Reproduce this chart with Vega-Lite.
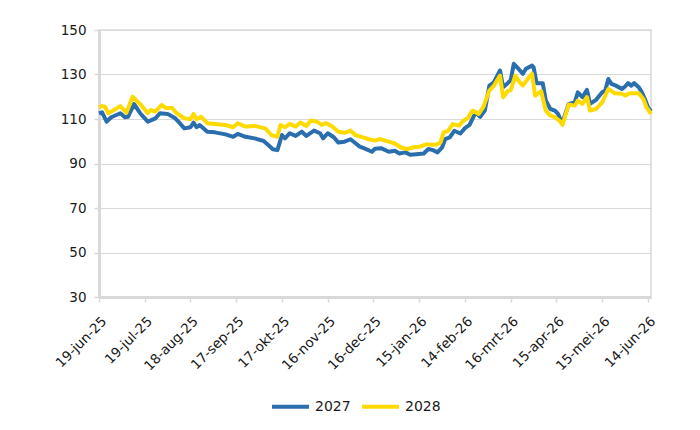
{
  "$schema": "https://vega.github.io/schema/vega-lite/v6.json",
  "autosize": {"type": "none"},
  "padding": {"left": 99, "top": 30, "right": 49, "bottom": 133},
  "width": 552,
  "height": 267,
  "background": "white",
  "config": {
    "font": "DejaVu Sans",
    "view": {"stroke": "#d9d9d9", "strokeWidth": 1.5},
    "axis": {
      "labelFont": "DejaVu Sans",
      "labelFontSize": 13.5,
      "labelColor": "#1a1a1a",
      "domainColor": "#d9d9d9",
      "domainWidth": 3,
      "tickColor": "#d9d9d9",
      "tickWidth": 1.5,
      "tickSize": 5,
      "gridColor": "#d9d9d9",
      "gridWidth": 1
    },
    "legend": {"labelFont": "DejaVu Sans"}
  },
  "data": {
    "values": [
      {"d": "2025-06-19", "s": "2027", "v": 112.5},
      {"d": "2025-06-21", "s": "2027", "v": 113},
      {"d": "2025-06-24", "s": "2027", "v": 108.8},
      {"d": "2025-06-27", "s": "2027", "v": 110.8},
      {"d": "2025-07-03", "s": "2027", "v": 112.6},
      {"d": "2025-07-06", "s": "2027", "v": 110.8},
      {"d": "2025-07-08", "s": "2027", "v": 111},
      {"d": "2025-07-12", "s": "2027", "v": 116.7},
      {"d": "2025-07-16", "s": "2027", "v": 112.6},
      {"d": "2025-07-21", "s": "2027", "v": 108.8},
      {"d": "2025-07-26", "s": "2027", "v": 110.3},
      {"d": "2025-07-29", "s": "2027", "v": 112.6},
      {"d": "2025-08-03", "s": "2027", "v": 112.3},
      {"d": "2025-08-08", "s": "2027", "v": 110.3},
      {"d": "2025-08-11", "s": "2027", "v": 108.1},
      {"d": "2025-08-14", "s": "2027", "v": 105.8},
      {"d": "2025-08-18", "s": "2027", "v": 106.3},
      {"d": "2025-08-20", "s": "2027", "v": 108.4},
      {"d": "2025-08-22", "s": "2027", "v": 106.3},
      {"d": "2025-08-24", "s": "2027", "v": 107.3},
      {"d": "2025-08-29", "s": "2027", "v": 104.3},
      {"d": "2025-09-03", "s": "2027", "v": 104},
      {"d": "2025-09-10", "s": "2027", "v": 103.1},
      {"d": "2025-09-15", "s": "2027", "v": 102},
      {"d": "2025-09-18", "s": "2027", "v": 103.3},
      {"d": "2025-09-23", "s": "2027", "v": 102},
      {"d": "2025-09-29", "s": "2027", "v": 101.3},
      {"d": "2025-10-05", "s": "2027", "v": 100.1},
      {"d": "2025-10-08", "s": "2027", "v": 98.3},
      {"d": "2025-10-11", "s": "2027", "v": 96.4},
      {"d": "2025-10-14", "s": "2027", "v": 96},
      {"d": "2025-10-17", "s": "2027", "v": 102.8},
      {"d": "2025-10-19", "s": "2027", "v": 101.3},
      {"d": "2025-10-22", "s": "2027", "v": 103.6},
      {"d": "2025-10-26", "s": "2027", "v": 102.4},
      {"d": "2025-10-30", "s": "2027", "v": 104.3},
      {"d": "2025-11-02", "s": "2027", "v": 102.4},
      {"d": "2025-11-07", "s": "2027", "v": 104.8},
      {"d": "2025-11-11", "s": "2027", "v": 103.6},
      {"d": "2025-11-13", "s": "2027", "v": 101.3},
      {"d": "2025-11-16", "s": "2027", "v": 103.6},
      {"d": "2025-11-20", "s": "2027", "v": 101.8},
      {"d": "2025-11-23", "s": "2027", "v": 99.4},
      {"d": "2025-11-27", "s": "2027", "v": 99.8},
      {"d": "2025-12-01", "s": "2027", "v": 100.9},
      {"d": "2025-12-03", "s": "2027", "v": 99.8},
      {"d": "2025-12-07", "s": "2027", "v": 97.6},
      {"d": "2025-12-10", "s": "2027", "v": 96.8},
      {"d": "2025-12-15", "s": "2027", "v": 95.3},
      {"d": "2025-12-17", "s": "2027", "v": 96.6},
      {"d": "2025-12-21", "s": "2027", "v": 96.9},
      {"d": "2025-12-26", "s": "2027", "v": 95.3},
      {"d": "2025-12-30", "s": "2027", "v": 95.7},
      {"d": "2026-01-02", "s": "2027", "v": 94.5},
      {"d": "2026-01-06", "s": "2027", "v": 95},
      {"d": "2026-01-09", "s": "2027", "v": 93.9},
      {"d": "2026-01-13", "s": "2027", "v": 94.2},
      {"d": "2026-01-18", "s": "2027", "v": 94.5},
      {"d": "2026-01-21", "s": "2027", "v": 96.5},
      {"d": "2026-01-24", "s": "2027", "v": 96},
      {"d": "2026-01-27", "s": "2027", "v": 95},
      {"d": "2026-01-30", "s": "2027", "v": 97.2},
      {"d": "2026-02-01", "s": "2027", "v": 101},
      {"d": "2026-02-04", "s": "2027", "v": 101.7},
      {"d": "2026-02-07", "s": "2027", "v": 104.7},
      {"d": "2026-02-11", "s": "2027", "v": 103.5},
      {"d": "2026-02-14", "s": "2027", "v": 105.9},
      {"d": "2026-02-17", "s": "2027", "v": 107.4},
      {"d": "2026-02-21", "s": "2027", "v": 113},
      {"d": "2026-02-24", "s": "2027", "v": 111},
      {"d": "2026-02-27", "s": "2027", "v": 113.8},
      {"d": "2026-03-02", "s": "2027", "v": 125},
      {"d": "2026-03-05", "s": "2027", "v": 126.5},
      {"d": "2026-03-09", "s": "2027", "v": 131.8},
      {"d": "2026-03-11", "s": "2027", "v": 124.3},
      {"d": "2026-03-14", "s": "2027", "v": 126.1},
      {"d": "2026-03-16", "s": "2027", "v": 127.5},
      {"d": "2026-03-18", "s": "2027", "v": 134.8},
      {"d": "2026-03-21", "s": "2027", "v": 132.6},
      {"d": "2026-03-24", "s": "2027", "v": 130.3},
      {"d": "2026-03-26", "s": "2027", "v": 132.6},
      {"d": "2026-03-30", "s": "2027", "v": 134},
      {"d": "2026-03-31", "s": "2027", "v": 133.3},
      {"d": "2026-04-02", "s": "2027", "v": 126.1},
      {"d": "2026-04-06", "s": "2027", "v": 126.1},
      {"d": "2026-04-08", "s": "2027", "v": 118.3},
      {"d": "2026-04-11", "s": "2027", "v": 114.5},
      {"d": "2026-04-14", "s": "2027", "v": 113.8},
      {"d": "2026-04-16", "s": "2027", "v": 112.3},
      {"d": "2026-04-18", "s": "2027", "v": 109.2},
      {"d": "2026-04-19", "s": "2027", "v": 108.5},
      {"d": "2026-04-23", "s": "2027", "v": 116.8},
      {"d": "2026-04-27", "s": "2027", "v": 117.5},
      {"d": "2026-04-29", "s": "2027", "v": 122},
      {"d": "2026-05-02", "s": "2027", "v": 119.8},
      {"d": "2026-05-05", "s": "2027", "v": 123.1},
      {"d": "2026-05-07", "s": "2027", "v": 116.8},
      {"d": "2026-05-11", "s": "2027", "v": 118.6},
      {"d": "2026-05-15", "s": "2027", "v": 122},
      {"d": "2026-05-17", "s": "2027", "v": 122.8},
      {"d": "2026-05-19", "s": "2027", "v": 128},
      {"d": "2026-05-21", "s": "2027", "v": 125.8},
      {"d": "2026-05-24", "s": "2027", "v": 125},
      {"d": "2026-05-28", "s": "2027", "v": 123.5},
      {"d": "2026-05-30", "s": "2027", "v": 124.6},
      {"d": "2026-06-01", "s": "2027", "v": 126.1},
      {"d": "2026-06-03", "s": "2027", "v": 125},
      {"d": "2026-06-05", "s": "2027", "v": 126.1},
      {"d": "2026-06-08", "s": "2027", "v": 124.3},
      {"d": "2026-06-10", "s": "2027", "v": 122},
      {"d": "2026-06-12", "s": "2027", "v": 119},
      {"d": "2026-06-14", "s": "2027", "v": 115.3},
      {"d": "2026-06-16", "s": "2027", "v": 113.5},

      {"d": "2025-06-19", "s": "2028", "v": 115.3},
      {"d": "2025-06-21", "s": "2028", "v": 115.8},
      {"d": "2025-06-23", "s": "2028", "v": 115.5},
      {"d": "2025-06-25", "s": "2028", "v": 112.6},
      {"d": "2025-06-28", "s": "2028", "v": 113.7},
      {"d": "2025-07-03", "s": "2028", "v": 115.8},
      {"d": "2025-07-07", "s": "2028", "v": 112.8},
      {"d": "2025-07-11", "s": "2028", "v": 120},
      {"d": "2025-07-16", "s": "2028", "v": 116.7},
      {"d": "2025-07-21", "s": "2028", "v": 112.6},
      {"d": "2025-07-23", "s": "2028", "v": 114},
      {"d": "2025-07-26", "s": "2028", "v": 113.3},
      {"d": "2025-07-30", "s": "2028", "v": 116.3},
      {"d": "2025-08-02", "s": "2028", "v": 114.9},
      {"d": "2025-08-06", "s": "2028", "v": 114.9},
      {"d": "2025-08-09", "s": "2028", "v": 112.6},
      {"d": "2025-08-14", "s": "2028", "v": 110.3},
      {"d": "2025-08-18", "s": "2028", "v": 109.9},
      {"d": "2025-08-20", "s": "2028", "v": 112.3},
      {"d": "2025-08-22", "s": "2028", "v": 109.9},
      {"d": "2025-08-25", "s": "2028", "v": 111},
      {"d": "2025-08-29", "s": "2028", "v": 108.1},
      {"d": "2025-09-03", "s": "2028", "v": 107.8},
      {"d": "2025-09-10", "s": "2028", "v": 107.3},
      {"d": "2025-09-15", "s": "2028", "v": 106.3},
      {"d": "2025-09-18", "s": "2028", "v": 108.1},
      {"d": "2025-09-23", "s": "2028", "v": 106.6},
      {"d": "2025-09-29", "s": "2028", "v": 106.9},
      {"d": "2025-10-06", "s": "2028", "v": 105.8},
      {"d": "2025-10-10", "s": "2028", "v": 102.8},
      {"d": "2025-10-14", "s": "2028", "v": 102},
      {"d": "2025-10-16", "s": "2028", "v": 107.3},
      {"d": "2025-10-19", "s": "2028", "v": 106.3},
      {"d": "2025-10-22", "s": "2028", "v": 107.8},
      {"d": "2025-10-26", "s": "2028", "v": 106.6},
      {"d": "2025-10-29", "s": "2028", "v": 108.4},
      {"d": "2025-11-02", "s": "2028", "v": 106.9},
      {"d": "2025-11-05", "s": "2028", "v": 109.3},
      {"d": "2025-11-09", "s": "2028", "v": 108.8},
      {"d": "2025-11-12", "s": "2028", "v": 107.3},
      {"d": "2025-11-15", "s": "2028", "v": 108.1},
      {"d": "2025-11-19", "s": "2028", "v": 106.6},
      {"d": "2025-11-23", "s": "2028", "v": 104.3},
      {"d": "2025-11-27", "s": "2028", "v": 103.8},
      {"d": "2025-12-01", "s": "2028", "v": 104.8},
      {"d": "2025-12-04", "s": "2028", "v": 102.8},
      {"d": "2025-12-08", "s": "2028", "v": 102},
      {"d": "2025-12-13", "s": "2028", "v": 100.9},
      {"d": "2025-12-17", "s": "2028", "v": 100.3},
      {"d": "2025-12-20", "s": "2028", "v": 101},
      {"d": "2025-12-26", "s": "2028", "v": 99.8},
      {"d": "2025-12-30", "s": "2028", "v": 99},
      {"d": "2026-01-03", "s": "2028", "v": 97.2},
      {"d": "2026-01-07", "s": "2028", "v": 96.5},
      {"d": "2026-01-11", "s": "2028", "v": 97.2},
      {"d": "2026-01-15", "s": "2028", "v": 97.5},
      {"d": "2026-01-20", "s": "2028", "v": 98.7},
      {"d": "2026-01-23", "s": "2028", "v": 98.4},
      {"d": "2026-01-26", "s": "2028", "v": 98.4},
      {"d": "2026-01-29", "s": "2028", "v": 99.5},
      {"d": "2026-01-31", "s": "2028", "v": 104},
      {"d": "2026-02-03", "s": "2028", "v": 104.7},
      {"d": "2026-02-06", "s": "2028", "v": 107.7},
      {"d": "2026-02-10", "s": "2028", "v": 107},
      {"d": "2026-02-13", "s": "2028", "v": 109.2},
      {"d": "2026-02-16", "s": "2028", "v": 110.5},
      {"d": "2026-02-19", "s": "2028", "v": 113.8},
      {"d": "2026-02-23", "s": "2028", "v": 112.3},
      {"d": "2026-02-26", "s": "2028", "v": 115.3},
      {"d": "2026-03-02", "s": "2028", "v": 122.8},
      {"d": "2026-03-05", "s": "2028", "v": 125},
      {"d": "2026-03-07", "s": "2028", "v": 127.3},
      {"d": "2026-03-09", "s": "2028", "v": 129.5},
      {"d": "2026-03-11", "s": "2028", "v": 119.8},
      {"d": "2026-03-14", "s": "2028", "v": 122.5},
      {"d": "2026-03-16", "s": "2028", "v": 123},
      {"d": "2026-03-19", "s": "2028", "v": 129.5},
      {"d": "2026-03-22", "s": "2028", "v": 126.5},
      {"d": "2026-03-24", "s": "2028", "v": 125},
      {"d": "2026-03-28", "s": "2028", "v": 128.8},
      {"d": "2026-03-30", "s": "2028", "v": 130.3},
      {"d": "2026-04-01", "s": "2028", "v": 120.5},
      {"d": "2026-04-05", "s": "2028", "v": 122.5},
      {"d": "2026-04-08", "s": "2028", "v": 113.8},
      {"d": "2026-04-11", "s": "2028", "v": 111.5},
      {"d": "2026-04-14", "s": "2028", "v": 110.8},
      {"d": "2026-04-17", "s": "2028", "v": 109.2},
      {"d": "2026-04-19", "s": "2028", "v": 107.4},
      {"d": "2026-04-23", "s": "2028", "v": 116.5},
      {"d": "2026-04-27", "s": "2028", "v": 116},
      {"d": "2026-04-29", "s": "2028", "v": 118.3},
      {"d": "2026-05-02", "s": "2028", "v": 116.8},
      {"d": "2026-05-05", "s": "2028", "v": 119.8},
      {"d": "2026-05-07", "s": "2028", "v": 113.8},
      {"d": "2026-05-11", "s": "2028", "v": 114.5},
      {"d": "2026-05-15", "s": "2028", "v": 117.5},
      {"d": "2026-05-19", "s": "2028", "v": 123.5},
      {"d": "2026-05-23", "s": "2028", "v": 121.6},
      {"d": "2026-05-28", "s": "2028", "v": 121.3},
      {"d": "2026-05-30", "s": "2028", "v": 120.5},
      {"d": "2026-06-02", "s": "2028", "v": 121.6},
      {"d": "2026-06-05", "s": "2028", "v": 121.6},
      {"d": "2026-06-08", "s": "2028", "v": 121.6},
      {"d": "2026-06-11", "s": "2028", "v": 119},
      {"d": "2026-06-13", "s": "2028", "v": 115.3},
      {"d": "2026-06-16", "s": "2028", "v": 112.3}
    ],
    "format": {"parse": {"d": "utc:'%Y-%m-%d'"}}
  },
  "mark": {"type": "line", "strokeWidth": 4, "strokeJoin": "round", "strokeCap": "butt"},
  "encoding": {
    "x": {
      "field": "d",
      "type": "temporal",
      "scale": {
        "type": "utc",
        "domain": [
          {"year": 2025, "month": 6, "date": 19, "utc": true},
          {"year": 2026, "month": 6, "date": 16, "utc": true}
        ]
      },
      "axis": {
        "title": null,
        "grid": false,
        "labelAngle": -45,
        "labelAlign": "right",
        "labelBaseline": "top",
        "labelPadding": 12,
        "labelOverlap": false,
        "labelBound": false,
        "values": [
          {"year": 2025, "month": 6, "date": 19, "utc": true},
          {"year": 2025, "month": 7, "date": 19, "utc": true},
          {"year": 2025, "month": 8, "date": 18, "utc": true},
          {"year": 2025, "month": 9, "date": 17, "utc": true},
          {"year": 2025, "month": 10, "date": 17, "utc": true},
          {"year": 2025, "month": 11, "date": 16, "utc": true},
          {"year": 2025, "month": 12, "date": 16, "utc": true},
          {"year": 2026, "month": 1, "date": 15, "utc": true},
          {"year": 2026, "month": 2, "date": 14, "utc": true},
          {"year": 2026, "month": 3, "date": 16, "utc": true},
          {"year": 2026, "month": 4, "date": 15, "utc": true},
          {"year": 2026, "month": 5, "date": 15, "utc": true},
          {"year": 2026, "month": 6, "date": 14, "utc": true}
        ],
        "labelExpr": "utcFormat(datum.value, '%d') + '-' + ['jan','feb','mrt','apr','mei','jun','jul','aug','sep','okt','nov','dec'][utcmonth(datum.value)] + '-' + utcFormat(datum.value, '%y')"
      }
    },
    "y": {
      "field": "v",
      "type": "quantitative",
      "scale": {"domain": [30, 150], "nice": false, "zero": false},
      "axis": {
        "title": null,
        "values": [30, 50, 70, 90, 110, 130, 150],
        "labelPadding": 8
      }
    },
    "color": {
      "field": "s",
      "type": "nominal",
      "scale": {"domain": ["2027", "2028"], "range": ["#2a6ead", "#ffda00"]},
      "legend": {
        "title": null,
        "orient": "none",
        "direction": "horizontal",
        "legendX": 171,
        "legendY": 356,
        "symbolType": "stroke",
        "symbolSize": 1369,
        "symbolStrokeWidth": 4,
        "labelFontSize": 14,
        "labelColor": "#1a1a1a",
        "labelOffset": 4,
        "columnPadding": 3
      }
    }
  }
}
